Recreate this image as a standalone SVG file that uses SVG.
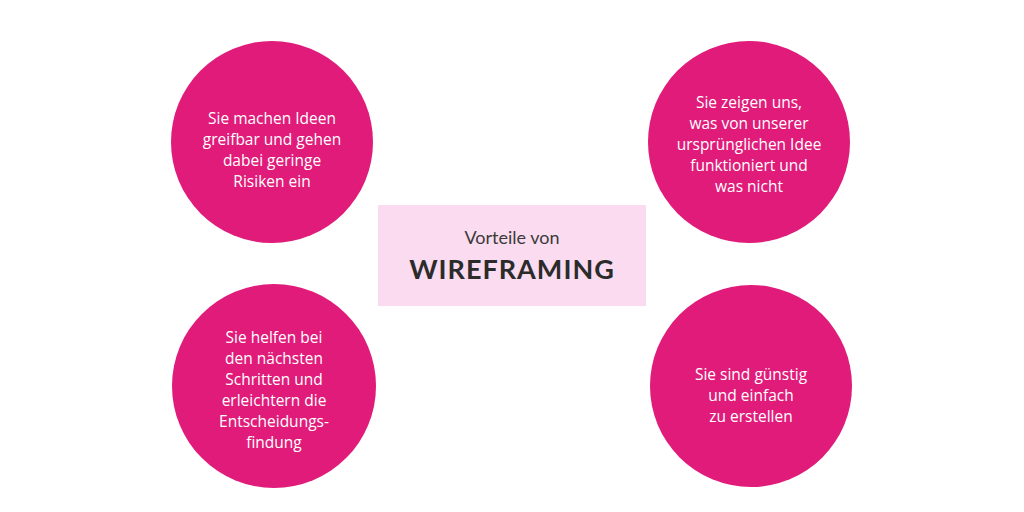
<svg xmlns="http://www.w3.org/2000/svg" width="1024" height="512" viewBox="0 0 1024 512">
<style>
.c{fill:#e01b7a}
.t{fill:#fff;font-family:"Open Sans","Noto Sans",sans-serif;font-size:15.5px;text-anchor:middle}
</style>
<rect width="1024" height="512" fill="#fff"/>
<g id="center">
<rect x="378" y="205" width="268" height="101" fill="#fadbef"/>
<text x="512" y="244" text-anchor="middle" font-family="Lato,'Open Sans',sans-serif" font-size="18" fill="#3a3a3a">Vorteile von</text>
<text x="512" y="279" text-anchor="middle" font-family="Lato,'Open Sans',sans-serif" font-size="27" font-weight="bold" letter-spacing="1" fill="#2b2b2b">WIREFRAMING</text>
</g>
<g id="n1"><circle class="c" cx="272" cy="142" r="101"/>
<text class="t"><tspan x="272" y="124">Sie machen Ideen</tspan><tspan x="272" y="145">greifbar und gehen</tspan><tspan x="272" y="166">dabei geringe</tspan><tspan x="272" y="187">Risiken ein</tspan></text></g>
<g id="n2"><circle class="c" cx="749" cy="142" r="101"/>
<text class="t"><tspan x="749" y="108">Sie zeigen uns,</tspan><tspan x="749" y="129">was von unserer</tspan><tspan x="749" y="150">ursprünglichen Idee</tspan><tspan x="749" y="171">funktioniert und</tspan><tspan x="749" y="192">was nicht</tspan></text></g>
<g id="n3"><circle class="c" cx="274" cy="386" r="102"/>
<text class="t"><tspan x="274" y="343">Sie helfen bei</tspan><tspan x="274" y="364">den nächsten</tspan><tspan x="274" y="385">Schritten und</tspan><tspan x="274" y="406">erleichtern die</tspan><tspan x="274" y="427">Entscheidungs-</tspan><tspan x="274" y="448">findung</tspan></text></g>
<g id="n4"><circle class="c" cx="751" cy="386" r="101"/>
<text class="t"><tspan x="751" y="380">Sie sind günstig</tspan><tspan x="751" y="401">und einfach</tspan><tspan x="751" y="422">zu erstellen</tspan></text></g>
<g id="connectors"></g>
</svg>
